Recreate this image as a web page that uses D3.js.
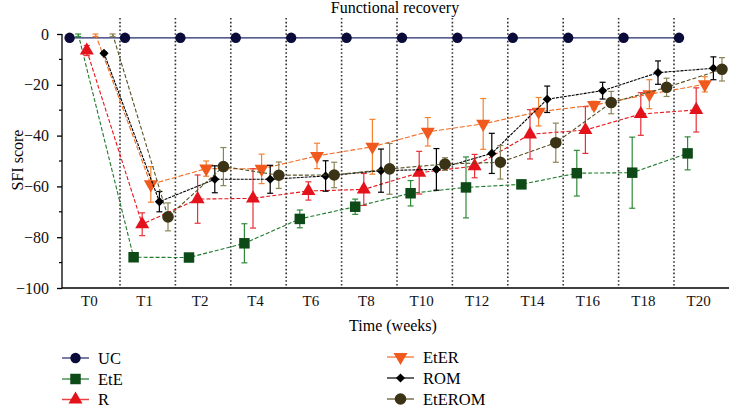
<!DOCTYPE html>
<html>
<head>
<meta charset="utf-8">
<script src="https://cdn.jsdelivr.net/npm/d3@7"></script>
<style>
  body { margin: 0; background: #fff; }
  text { font-family: "Liberation Serif", "DejaVu Serif", serif; }
</style>
</head>
<body>
<script>
// Time points (weeks)
var categories = ["T0", "T1", "T2", "T4", "T6", "T8", "T10", "T12", "T14", "T16", "T18", "T20"];
var seriesNames = ["UC", "EtE", "R", "EtER", "ROM", "EtEROM"];

// Mean SFI score per group
var ucMean     = [-1.5, -1.5, -1.5, -1.5, -1.5, -1.5, -1.5, -1.5, -1.5, -1.5, -1.5, -1.5];
var eteMean    = [0, -87.9, -88, -82.4, -72.8, -68, -62.7, -60.4, -59.2, -54.8, -54.6, -47];
var rMean      = [-6.5, -74.9, -65, -64.7, -61.8, -61.2, -54.6, -52, -39.5, -37.8, -31.5, -29.9];
var eterMean   = [0, -59.2, -53, -53.1, -48, -44.4, -38.5, -35.4, -30.6, -28, -23.7, -19.8];
var romMean    = [-7.6, -66, -57.2, -57.2, -55.9, -53.8, -53.3, -47, -25.7, -22.3, -15.2, -13.5];
var eteromMean = [0, -72, -52.2, -55.6, -55.5, -53.1, -51.2, -50.5, -42.8, -27, -21, -13.9];

// Standard deviations (error bars)
var ucSd     = [0, 0, 0, 0, 0, 0, 0, 0, 0, 0, 0, 0];
var eteSd    = [1, 1, 1, 7.7, 3.5, 3, 5, 12, 1, 9, 14, 6.5];
var rSd      = [2, 4.5, 9.5, 11.7, 3.6, 6.3, 8.4, 4.6, 9.7, 9.2, 8.4, 8.7];
var eterSd   = [1, 7, 3, 5.8, 5, 10.8, 5.6, 10, 5.6, 1.5, 5.7, 3];
var romSd    = [0.5, 4, 5.3, 5.5, 6, 8.5, 8.2, 7.9, 5.2, 3.3, 4.6, 4.5];
var eteromSd = [1, 5.5, 7.5, 5.2, 5, 10, 2.5, 6.6, 7.7, 4.4, 3.6, 4.6];

var yTicks = [0, -20, -40, -60, -80, -100];

var means = [ucMean, eteMean, rMean, eterMean, romMean, eteromMean];
var sds = [ucSd, eteSd, rSd, eterSd, romSd, eteromSd];

var style = {
  UC:     {marker: "#0b0b3a", line: "#1f2a6e", err: "#1f2a6e", dash: null,  shape: d3.symbolCircle,   size: 85},
  EtE:    {marker: "#0d4a17", line: "#1f7a2c", err: "#2f8a3a", dash: "4,2", shape: d3.symbolSquare,   size: 110},
  R:      {marker: "#e3121b", line: "#e8141a", err: "#e8303a", dash: "4,2", shape: d3.symbolTriangle, size: 85},
  EtER:   {marker: "#f05a1e", line: "#f26b21", err: "#f5822f", dash: "5,2", shape: d3.symbolTriangle, size: 85, rot: 180},
  ROM:    {marker: "#000000", line: "#000000", err: "#000000", dash: "3,1", shape: d3.symbolSquare,   size: 42, rot: 45},
  EtEROM: {marker: "#3a3316", line: "#5a5224", err: "#8c8458", dash: "4,2", shape: d3.symbolCircle,   size: 105}
};

var width = 729, height = 410;
var svg = d3.select("body").append("svg")
    .attr("width", width)
    .attr("height", height);

// Scales
var x = d3.scaleBand()
    .domain(categories)
    .range([64.6, 729.4])
    .paddingInner(0)
    .paddingOuter(0);
var dodge = d3.scalePoint()
    .domain(seriesNames)
    .range([5, 48]);
var y = d3.scaleLinear()
    .domain([-100, 0])
    .range([288, 34]);

// Dotted separators between time points
svg.append("g").selectAll("line")
    .data(categories.slice(1))
  .enter().append("line")
    .attr("x1", function(d) { return x(d); })
    .attr("x2", function(d) { return x(d); })
    .attr("y1", 18)
    .attr("y2", 288)
    .attr("stroke", "#333")
    .attr("stroke-width", 1.6)
    .attr("stroke-dasharray", "1.6,2.2");

// Y axis
var yAxis = svg.append("g")
    .attr("transform", "translate(62,0)")
    .call(d3.axisLeft(y).tickValues(yTicks).tickSize(5).tickPadding(8)
      .tickFormat(function(d) { return d === 0 ? "0" : "\u2212" + Math.abs(d); }));
yAxis.select(".domain").attr("d", "M0,34V288").attr("stroke-width", 1.3);
yAxis.selectAll("text").style("font-size", "16px").attr("fill", "#111")
    .style("font-family", "'Liberation Serif', serif");
yAxis.selectAll(".tick line").attr("stroke-width", 1.3);

// minor ticks
svg.append("g").selectAll("line")
    .data([-10, -30, -50, -70, -90])
  .enter().append("line")
    .attr("x1", 59).attr("x2", 62)
    .attr("y1", function(d) { return y(d); })
    .attr("y2", function(d) { return y(d); })
    .attr("stroke", "#000").attr("stroke-width", 1.2);

// X axis
var xAxis = svg.append("g")
    .attr("transform", "translate(0,288)")
    .call(d3.axisBottom(x).tickSize(0).tickPadding(7));
xAxis.select(".domain").attr("d", "M62,0H729").attr("stroke-width", 1.4);
xAxis.selectAll("text").style("font-size", "15px").attr("fill", "#111")
    .attr("dx", "-3px")
    .style("font-family", "'Liberation Serif', serif");

// Titles
svg.append("text")
    .attr("x", 395).attr("y", 13)
    .attr("text-anchor", "middle")
    .style("font-size", "16px")
    .text("Functional recovery");

svg.append("text")
    .attr("x", 393).attr("y", 331)
    .attr("text-anchor", "middle")
    .style("font-size", "16px")
    .text("Time (weeks)");

svg.append("text")
    .attr("transform", "translate(23,160) rotate(-90)")
    .attr("text-anchor", "middle")
    .style("font-size", "16px")
    .text("SFI score");

function px(s, i) { return x(categories[i]) + dodge(s); }

// Lines, error bars and markers per series
seriesNames.forEach(function(s, k) {
  var st = style[s];
  var vals = means[k].map(function(v, i) { return {i: i, v: v, sd: sds[k][i]}; });

  var line = d3.line()
      .x(function(d) { return px(s, d.i); })
      .y(function(d) { return y(d.v); });

  var g = svg.append("g");

  g.append("path")
      .datum(vals)
      .attr("d", line)
      .attr("fill", "none")
      .attr("stroke", st.line)
      .attr("stroke-width", s === "UC" ? 1.3 : 1.1)
      .attr("stroke-dasharray", st.dash);

  var eb = g.selectAll(".eb")
      .data(vals.filter(function(d) { return d.sd > 0; }))
    .enter().append("g");
  eb.append("line")
      .attr("x1", function(d) { return px(s, d.i); })
      .attr("x2", function(d) { return px(s, d.i); })
      .attr("y1", function(d) { return y(Math.min(0, d.v + d.sd)); })
      .attr("y2", function(d) { return y(d.v - d.sd); })
      .attr("stroke", st.err).attr("stroke-width", 1.2);
  eb.append("line")
      .attr("x1", function(d) { return px(s, d.i) - 3; })
      .attr("x2", function(d) { return px(s, d.i) + 3; })
      .attr("y1", function(d) { return y(Math.min(0, d.v + d.sd)); })
      .attr("y2", function(d) { return y(Math.min(0, d.v + d.sd)); })
      .attr("stroke", st.err).attr("stroke-width", 1.2);
  eb.append("line")
      .attr("x1", function(d) { return px(s, d.i) - 3; })
      .attr("x2", function(d) { return px(s, d.i) + 3; })
      .attr("y1", function(d) { return y(d.v - d.sd); })
      .attr("y2", function(d) { return y(d.v - d.sd); })
      .attr("stroke", st.err).attr("stroke-width", 1.2);

  // markers (points sitting exactly on the 0 baseline are hidden as in the original)
  g.selectAll(".pt")
      .data(vals.filter(function(d) { return d.v !== 0; }))
    .enter().append("path")
      .attr("d", d3.symbol().type(st.shape).size(st.size))
      .attr("transform", function(d) {
        return "translate(" + px(s, d.i) + "," + y(d.v) + ")" + (st.rot ? " rotate(" + st.rot + ")" : "");
      })
      .attr("fill", st.marker);
});

// Legend
var legendPos = [
  {x: 62, y: 358}, {x: 62, y: 379}, {x: 62, y: 399.5},
  {x: 387, y: 357}, {x: 387, y: 378}, {x: 387, y: 399}
];
seriesNames.forEach(function(s, k) {
  var st = style[s];
  var p = legendPos[k];
  var lg = svg.append("g").attr("transform", "translate(" + p.x + "," + p.y + ")");
  lg.append("line")
      .attr("x1", 0).attr("x2", 27)
      .attr("stroke", st.line).attr("stroke-width", 1.5).attr("opacity", 0.8);
  lg.append("path")
      .attr("d", d3.symbol().type(st.shape).size(st.size))
      .attr("transform", "translate(13.5,0)" + (st.rot ? " rotate(" + st.rot + ")" : ""))
      .attr("fill", st.marker);
  lg.append("text")
      .attr("x", 36).attr("y", 5.5)
      .style("font-size", "16.5px")
      .text(s);
});
</script>
</body>
</html>
